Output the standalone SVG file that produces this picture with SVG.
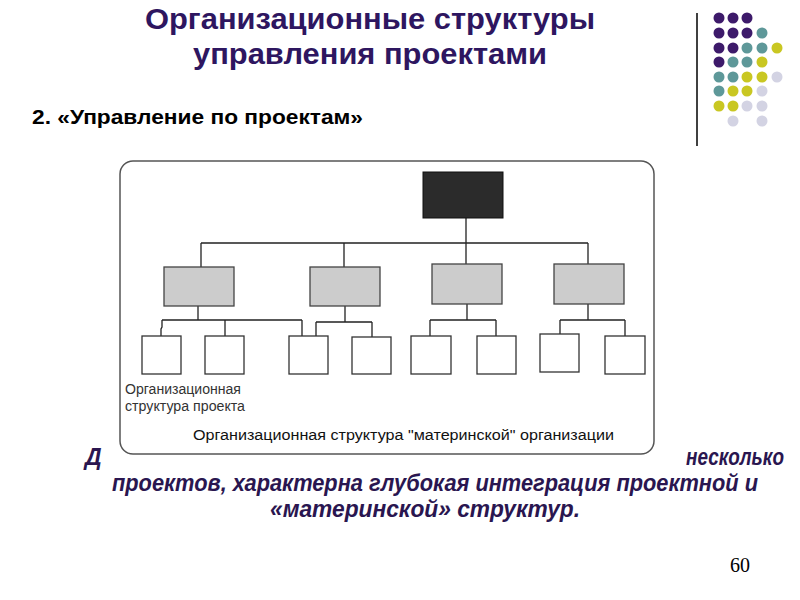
<svg xmlns="http://www.w3.org/2000/svg" width="800" height="600" viewBox="0 0 800 600">
<style>
.title{font-family:"Liberation Sans",Arial,sans-serif;font-weight:bold;font-size:29px;fill:#2e1660}
.sub{font-family:"Liberation Sans",Arial,sans-serif;font-weight:bold;font-size:21px;fill:#000}
.body{font-family:"Liberation Sans Narrow","Liberation Sans",Arial,sans-serif;font-weight:bold;font-style:italic;font-size:23px;fill:#2a1650}
.lbl{font-family:"Liberation Sans",Arial,sans-serif;font-size:14px;fill:#333}
.lbl2{font-family:"Liberation Sans",Arial,sans-serif;font-size:15.5px;fill:#111}
.num{font-family:"Liberation Serif","Times New Roman",serif;font-size:20px;fill:#000}
.gray{fill:#cccccc;stroke:#444;stroke-width:1.3}
.white{fill:#fff;stroke:#333;stroke-width:1.3}
.conn{fill:none;stroke:#222;stroke-width:1.3}
.p{fill:#3d1a6a}.t{fill:#5e9899}.y{fill:#c9c722}.l{fill:#d3d3e3}
</style>
<rect width="800" height="600" fill="#fff"/>
<g id="title">
<text class="title" x="145" y="29" textLength="450" lengthAdjust="spacingAndGlyphs">Организационные структуры</text>
<text class="title" x="193" y="64" textLength="354" lengthAdjust="spacingAndGlyphs">управления проектами</text>
</g>
<g id="decor">
<line x1="697" y1="13" x2="697" y2="146" stroke="#000" stroke-width="1.5"/>
<circle class="p" cx="719" cy="18" r="5.5"/><circle class="p" cx="733" cy="18" r="5.5"/><circle class="p" cx="747" cy="18" r="5.5"/>
<circle class="p" cx="719" cy="33" r="5.5"/><circle class="p" cx="733" cy="33" r="5.5"/><circle class="p" cx="747" cy="33" r="5.5"/><circle class="t" cx="762" cy="33" r="5.5"/>
<circle class="p" cx="719" cy="48" r="5.5"/><circle class="p" cx="733" cy="48" r="5.5"/><circle class="t" cx="747" cy="48" r="5.5"/><circle class="t" cx="762" cy="48" r="5.5"/><circle class="y" cx="777" cy="48" r="5.5"/>
<circle class="p" cx="719" cy="62" r="5.5"/><circle class="t" cx="733" cy="62" r="5.5"/><circle class="t" cx="747" cy="62" r="5.5"/><circle class="y" cx="762" cy="62" r="5.5"/>
<circle class="t" cx="719" cy="77" r="5.5"/><circle class="t" cx="733" cy="77" r="5.5"/><circle class="y" cx="747" cy="77" r="5.5"/><circle class="y" cx="762" cy="77" r="5.5"/><circle class="l" cx="777" cy="77" r="5.5"/>
<circle class="t" cx="719" cy="91" r="5.5"/><circle class="y" cx="733" cy="91" r="5.5"/><circle class="y" cx="747" cy="91" r="5.5"/><circle class="l" cx="762" cy="91" r="5.5"/>
<circle class="y" cx="719" cy="106" r="5.5"/><circle class="y" cx="733" cy="106" r="5.5"/><circle class="l" cx="747" cy="106" r="5.5"/><circle class="l" cx="762" cy="106" r="5.5"/>
<circle class="l" cx="733" cy="121" r="5.5"/><circle class="l" cx="762" cy="121" r="5.5"/>
</g>
<text class="sub" x="32" y="124" textLength="331" lengthAdjust="spacingAndGlyphs">2. «Управление по проектам»</text>
<g id="body">
<text class="body" x="85" y="465">Д</text>
<text class="body" x="686" y="465" textLength="98" lengthAdjust="spacingAndGlyphs">несколько</text>
<text class="body" x="112" y="491" textLength="646" lengthAdjust="spacingAndGlyphs">проектов, характерна глубокая интеграция проектной и</text>
<text class="body" x="270" y="517" textLength="310" lengthAdjust="spacingAndGlyphs">«материнской» структур.</text>
</g>
<g id="frame">
<rect x="120" y="161" width="534" height="293" rx="13" fill="#fff" stroke="#555" stroke-width="1.5"/>
</g>
<g id="connectors">
<path class="conn" d="M466 218V243M201 243H588M201 243V267M344 243V267M466 243V264M588 243V264"/>
<path class="conn" d="M198 306V320M162 320H302M162 320V327L161 329V336M225 320V336M302 320V336"/>
<path class="conn" d="M345 306V322M316 322H372M316 322V336M372 322V337"/>
<path class="conn" d="M467 304V320M430 320H496M430 320V336M496 320V336"/>
<path class="conn" d="M588 304V320M560 320H625M560 320V334M625 320V336"/>
</g>
<g id="top"><rect x="423" y="172" width="80" height="46" fill="#2b2b2b" stroke="#111" stroke-width="1"/></g>
<g id="dept1"><rect class="gray" x="164" y="267" width="70" height="39"/></g>
<g id="dept2"><rect class="gray" x="310" y="267" width="70" height="39"/></g>
<g id="dept3"><rect class="gray" x="432" y="264" width="70" height="40"/></g>
<g id="dept4"><rect class="gray" x="554" y="264" width="70" height="40"/></g>
<g id="unit1"><rect class="white" x="142" y="336" width="39" height="38"/></g>
<g id="unit2"><rect class="white" x="205" y="336" width="39" height="38"/></g>
<g id="unit3"><rect class="white" x="289" y="336" width="39" height="38"/></g>
<g id="unit4"><rect class="white" x="352" y="337" width="39" height="37"/></g>
<g id="unit5"><rect class="white" x="411" y="336" width="40" height="38"/></g>
<g id="unit6"><rect class="white" x="477" y="336" width="39" height="38"/></g>
<g id="unit7"><rect class="white" x="540" y="334" width="39" height="38"/></g>
<g id="unit8"><rect class="white" x="605" y="336" width="40" height="38"/></g>
<g id="labels">
<text class="lbl" x="125" y="394" textLength="116" lengthAdjust="spacingAndGlyphs">Организационная</text>
<text class="lbl" x="125" y="411" textLength="120" lengthAdjust="spacingAndGlyphs">структура проекта</text>
<text class="lbl2" x="193" y="440" textLength="421" lengthAdjust="spacingAndGlyphs">Организационная структура "материнской" организации</text>
</g>
<text class="num" x="730" y="572">60</text>
</svg>
